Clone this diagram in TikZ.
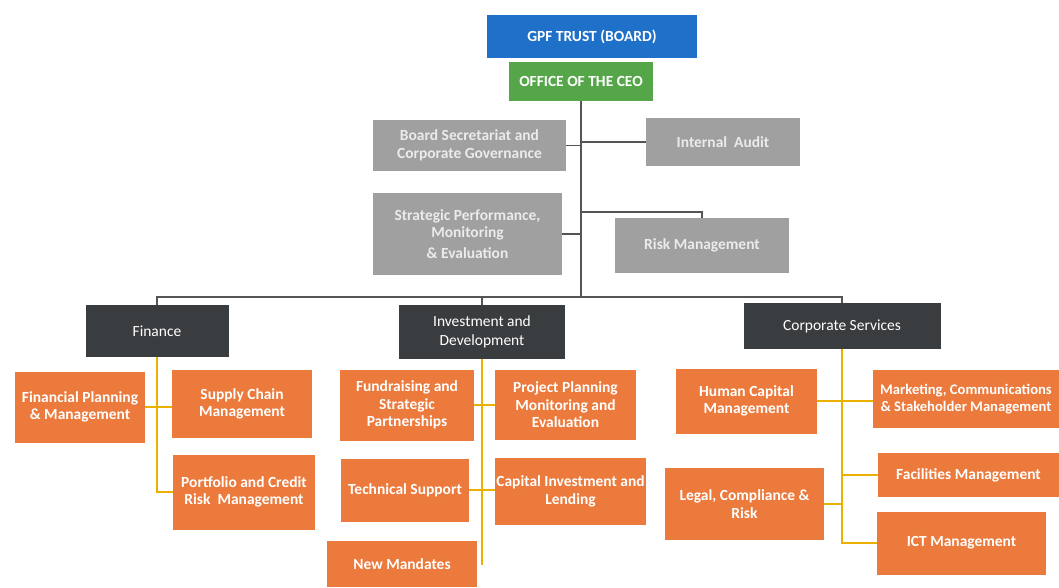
\documentclass[tikz,border=0pt]{standalone}
\usepackage{fontspec}
\setmainfont{Carlito}
\usepackage{tikz}

\newcommand{\px}{0.025cm}
\definecolor{boardblue}{RGB}{31,112,200}
\definecolor{ceogreen}{RGB}{84,166,72}
\definecolor{staffgray}{RGB}{160,160,160}
\definecolor{divdark}{RGB}{58,61,64}
\definecolor{unitorange}{RGB}{235,122,60}
\definecolor{linegray}{RGB}{85,85,85}
\definecolor{lineyellow}{RGB}{236,176,0}

\tikzset{
	wh/.style 2 args={minimum width=#1*\px, minimum height=#2*\px},
	box/.style={shape=rectangle, inner sep=1pt, text=white, align=center,
		font=\fontsize{11}{12.5}\selectfont\bfseries},
	board/.style={box, fill=boardblue},
	ceo/.style={box, fill=ceogreen},
	staff/.style={box, fill=staffgray, text=white!92!black},
	division/.style={box, fill=divdark, font=\fontsize{11}{13.5}\selectfont},
	unit/.style={box, fill=unitorange},
	topline/.style={draw=linegray, line width=0.8pt},
	unitline/.style={draw=lineyellow, line width=1.2pt}
}

\begin{document}
\begin{tikzpicture}[x=\px, y=-\px]
	\useasboundingbox (0,0) rectangle (1059,587);
	
	\node[board, wh={210}{43}] (gpf) at (592, 36.5)     {GPF TRUST (BOARD)};
	\node[ceo, wh={144}{39}] (ceo) at (581, 81.5)     {OFFICE OF THE CEO};
	
	\node[staff, wh={193}{51}] (bsec) at (469.5, 145.5)     {Board Secretariat and\\Corporate Governance};
	\node[staff, wh={154}{48}] (audit) at (723, 142)     {Internal\ \ Audit};
	\node[staff, wh={189}{82}] (spme) at (467.5, 234)     {Strategic Performance,\\Monitoring\\[2pt]\& Evaluation};
	\node[staff, wh={174}{55}] (risk) at (702, 245.5)     {Risk Management};
	
	\node[division, wh={143}{52}] (fin) at (157, 331)     {Finance};
	\node[division, wh={166}{54}] (inv) at (482, 332)     {Investment and\\Development};
	\node[division, wh={197}{46}] (corp) at (842, 326)     {Corporate Services};
	
	\node[unit, wh={130}{71}] (fpm) at (80, 407)     {Financial Planning\\\& Management};
	\node[unit, wh={140}{68}] (scm) at (242, 404)     {Supply Chain\\Management};
	\node[unit, wh={142}{75}] (pcr) at (244, 492)     {Portfolio and Credit\\Risk\ \ Management};
	
	\node[unit, wh={134}{71}] (fsp) at (407, 405)     {Fundraising and\\Strategic\\Partnerships};
	\node[unit, wh={141}{70}] (ppme) at (565.5, 405)     {Project Planning\\Monitoring and\\Evaluation};
	\node[unit, wh={128}{63}] (tech) at (405, 490)     {Technical Support};
	\node[unit, wh={151}{67}] (cil) at (570.5, 491.5)     {Capital Investment and\\Lending};
	\node[unit, wh={150}{46}] (newm) at (402, 564)     {New Mandates};
	
	\node[unit, wh={141}{65}] (hcm) at (746.5, 401)     {Human Capital\\Management};
	\node[unit, wh={186}{58}, inner sep=0pt, font=\fontsize{10.4}{12.5}\selectfont\bfseries] (mcs) at (966, 399)     {Marketing, Communications\\\& Stakeholder Management};
	\node[unit, wh={181}{44}] (fac) at (968.5, 475)     {Facilities Management};
	\node[unit, wh={159}{72}] (lcr) at (744.5, 504)     {Legal, Compliance \&\\Risk};
	\node[unit, wh={169}{63}] (ict) at (961.5, 543)     {ICT Management};
	
	% office of the CEO
	\coordinate (trunk) at (581, 297);
	\coordinate (rk) at (581, 212);
	\path[topline] (ceo.south) edge (trunk);
	\path[topline] (bsec.east) edge (bsec.east -| trunk);
	\path[topline] (audit.west) edge (audit.west -| trunk);
	\path[topline] (spme.east) edge (spme.east -| trunk);
	\draw[topline] (rk) -| (risk.north);
	
	% divisions
	\draw[topline] (fin.north) -- (fin.north |- trunk) -- (corp.north |- trunk) -- (corp.north);
	\path[topline] (inv.north) edge (inv.north |- trunk);
	
	% finance units
	\draw[unitline] (fin.south) |- (pcr.west);
	\path[unitline] (fpm.east) edge (fpm.east -| scm.west);
	
	% investment units
	\coordinate (invend) at (482, 565);
	\path[unitline] (inv.south) edge (invend);
	\path[unitline] (fsp.east) edge (fsp.east -| ppme.west);
	\path[unitline] (tech.east) edge (tech.east -| cil.west);
	
	% corporate units
	\draw[unitline] (corp.south) |- (ict.west);
	\path[unitline] (hcm.east) edge (hcm.east -| mcs.west);
	\path[unitline] (fac.west) edge (fac.west -| corp.south);
	\path[unitline] (lcr.east) edge (lcr.east -| corp.south);
\end{tikzpicture}
\end{document}
